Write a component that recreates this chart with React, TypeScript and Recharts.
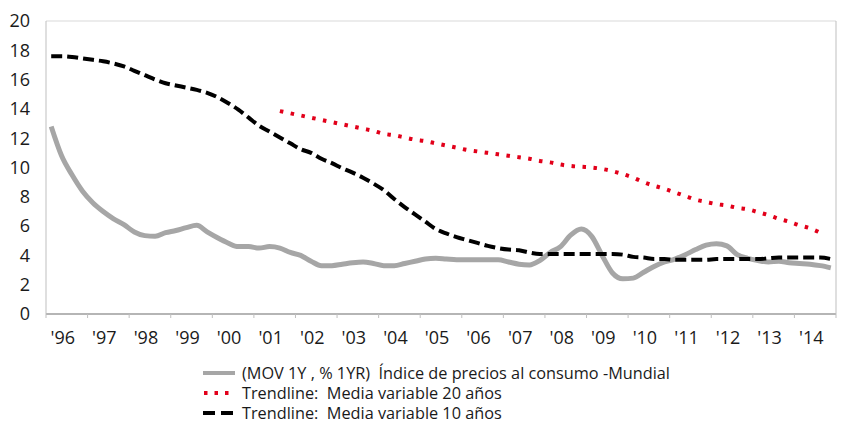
import { LineChart, Line, XAxis, YAxis, CartesianGrid } from "recharts";

// quarterly series, Q1 1996 .. Q4 2014
const years = ["'96", "'97", "'98", "'99", "'00", "'01", "'02", "'03", "'04", "'05", "'06", "'07", "'08", "'09", "'10", "'11", "'12", "'13", "'14"];

const cpi = [
  12.8, 10.8, 9.5, 8.4, 7.6, 7.0, 6.5, 6.1, 5.6, 5.35, 5.3, 5.55, 5.7, 5.9, 6.05, 5.6,
  5.2, 4.85, 4.6, 4.6, 4.5, 4.6, 4.5, 4.2, 4.0, 3.6, 3.3, 3.3, 3.4, 3.5, 3.55, 3.45,
  3.3, 3.3, 3.45, 3.6, 3.75, 3.8, 3.75, 3.7, 3.7, 3.7, 3.7, 3.7, 3.55, 3.4, 3.35, 3.65,
  4.2, 4.6, 5.4, 5.8, 5.3, 4.0, 2.8, 2.4, 2.45, 2.85, 3.25, 3.55, 3.75, 4.05, 4.4, 4.7,
  4.8, 4.65, 4.05, 3.8, 3.65, 3.55, 3.6, 3.5, 3.45, 3.4, 3.3, 3.15,
];

const ma10 = [
  17.6, 17.6, 17.55, 17.45, 17.35, 17.25, 17.1, 16.9, 16.6, 16.3, 16.0, 15.75, 15.6, 15.45, 15.3, 15.1,
  14.8, 14.4, 13.95, 13.4, 12.85, 12.45, 12.05, 11.65, 11.25, 11.0, 10.6, 10.3, 9.95, 9.65, 9.3, 8.9,
  8.45, 7.85, 7.3, 6.8, 6.3, 5.8, 5.5, 5.25, 5.05, 4.85, 4.65, 4.5, 4.4, 4.35, 4.2, 4.1,
  4.1, 4.1, 4.1, 4.1, 4.1, 4.1, 4.1, 4.05, 3.9, 3.85, 3.75, 3.75, 3.7, 3.7, 3.7, 3.7,
  3.75, 3.75, 3.75, 3.75, 3.75, 3.8, 3.85, 3.85, 3.85, 3.85, 3.85, 3.75,
];

// 20y trendline starts in Q3 2001
const ma20Start = 22;
const ma20 = [
  13.85, 13.7, 13.55, 13.4, 13.25, 13.1, 12.95, 12.8, 12.65, 12.5,
  12.3, 12.2, 12.05, 11.9, 11.8, 11.65, 11.5, 11.35, 11.2, 11.1, 11.0, 10.9,
  10.8, 10.7, 10.6, 10.45, 10.35, 10.2, 10.1, 10.05, 10.0, 9.9, 9.75, 9.55,
  9.3, 9.0, 8.75, 8.55, 8.3, 8.05, 7.8, 7.65, 7.5, 7.4, 7.25, 7.15, 6.95, 6.75,
  6.5, 6.3, 6.05, 5.85, 5.55,
];

const yTicks = [0, 2, 4, 6, 8, 10, 12, 14, 16, 18, 20];
const xTicks = [0, 4, 8, 12, 16, 20, 24, 28, 32, 36, 40, 44, 48, 52, 56, 60, 64, 68, 72, 76];

const data = cpi.map((v, i) => {
  const j = i - ma20Start;
  return {
    q: i + 0.5,
    cpi: v,
    ma10: ma10[i],
    ma20: j >= 0 && j < ma20.length ? ma20[j] : null,
  };
});

const W = 863;
const H = 421;
const LEFT = 46;
const RIGHT = 27;
const halfYear = (W - LEFT - RIGHT) / years.length / 2;
const font = "'Open Sans', sans-serif";

const legendItems = [
  { key: "cpi", label: "(MOV 1Y , % 1YR)  Índice de precios al consumo -Mundial" },
  { key: "ma20", label: "Trendline:  Media variable 20 años" },
  { key: "ma10", label: "Trendline:  Media variable 10 años" },
];

function YearTick(props: any) {
  const { x, y, index } = props;
  if (index >= years.length) return null;
  return (
    <text x={x + halfYear - 4} y={y + 24} textAnchor="middle" fill="#1a1a1a" fontSize={18} fontFamily={font}>
      {years[index]}
    </text>
  );
}

function Swatch({ k }: { k: string }) {
  if (k === "cpi") return <line x1={1} x2={33} y1={7} y2={7} stroke="#a6a6a6" strokeWidth={4} />;
  if (k === "ma20") return <line x1={2} x2={33} y1={7} y2={7} stroke="#e2001a" strokeWidth={4} strokeDasharray="3.5 7" />;
  return <line x1={1} x2={33} y1={7} y2={7} stroke="#000" strokeWidth={4} strokeDasharray="12 6" />;
}

function LegendBox() {
  return (
    <div style={{ position: "absolute", left: 202, top: 363, fontFamily: font, fontSize: 16.3, color: "#1a1a1a" }}>
      {legendItems.map((it) => (
        <div key={it.key} style={{ display: "flex", alignItems: "center", height: 20, whiteSpace: "pre" }}>
          <svg width={36} height={14} style={{ marginRight: 4 }}>
            <Swatch k={it.key} />
          </svg>
          <span>{it.label}</span>
        </div>
      ))}
    </div>
  );
}

export default function App() {
  return (
    <div style={{ position: "absolute", left: 0, top: 0, width: W, height: H, background: "#fff", overflow: "hidden" }}>
      <LineChart width={W} height={350} data={data} margin={{ top: 21, right: 0, left: 0, bottom: 6 }}>
        <CartesianGrid vertical={false} stroke="#d9d9d9" strokeWidth={1.2} />
        <XAxis
          dataKey="q"
          type="number"
          domain={[0, 76]}
          ticks={xTicks}
          interval={0}
          height={30}
          tickSize={4}
          tickLine={{ stroke: "#bfbfbf" }}
          axisLine={{ stroke: "#7f7f7f", strokeWidth: 1.2 }}
          tick={<YearTick />}
        />
        <YAxis
          yAxisId="left"
          domain={[0, 20]}
          ticks={yTicks}
          interval={0}
          width={LEFT}
          tickLine={false}
          tickSize={0}
          tickMargin={16}
          axisLine={{ stroke: "#bfbfbf" }}
          tick={{ fill: "#1a1a1a", fontSize: 18, fontFamily: font }}
        />
        <YAxis
          yAxisId="right"
          orientation="right"
          domain={[0, 20]}
          ticks={yTicks}
          interval={0}
          width={RIGHT}
          tickLine={false}
          tickSize={0}
          tickMargin={7}
          axisLine={{ stroke: "#bfbfbf" }}
          tick={{ fill: "#1a1a1a", fontSize: 18, fontFamily: font, textAnchor: "start" }}
        />
        <Line yAxisId="left" type="monotone" dataKey="cpi" stroke="#a6a6a6" strokeWidth={5} dot={false} isAnimationActive={false} />
        <Line yAxisId="left" type="monotone" dataKey="ma20" stroke="#e2001a" strokeWidth={4} strokeDasharray="3.5 7.5" dot={false} connectNulls={false} isAnimationActive={false} />
        <Line yAxisId="left" type="monotone" dataKey="ma10" stroke="#000" strokeWidth={4} strokeDasharray="11 5" dot={false} isAnimationActive={false} />
      </LineChart>
      <LegendBox />
    </div>
  );
}
